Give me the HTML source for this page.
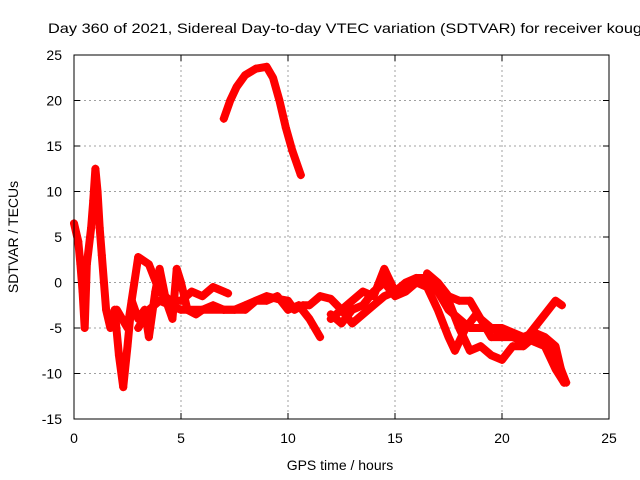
<!DOCTYPE html>
<html><head><meta charset="utf-8">
<style>
html,body{margin:0;padding:0;background:#fff;}
svg{display:block;font-family:"Liberation Sans",sans-serif;}
</style></head>
<body>
<svg id="chart" width="640" height="480" viewBox="0 0 640 480">
<text x="48" y="33" font-size="14" textLength="594" lengthAdjust="spacingAndGlyphs" fill="#000">Day 360 of 2021, Sidereal Day-to-day VTEC variation (SDTVAR) for receiver koug</text>
<g id="grid"></g>
<g id="ticks"></g>
<g id="series"></g>
<rect x="74" y="55" width="535" height="364" fill="none" stroke="#000" stroke-width="1"/>
<text x="340" y="470" font-size="14" text-anchor="middle">GPS time / hours</text>
<text x="18" y="237" font-size="14" text-anchor="middle" transform="rotate(-90 18 237)">SDTVAR / TECUs</text>
</svg>
<script>
const xTicks=[0,5,10,15,20,25];
const yTicks=[-15,-10,-5,0,5,10,15,20,25];
const seriesArc=[[7.0,18],[7.3,20],[7.6,21.5],[8.0,22.8],[8.5,23.5],[9.0,23.7],[9.3,22.5],[9.6,20],[9.9,17],[10.2,14.5],[10.6,11.8]];
const seriesEarly=[[0,6.5],[0.2,4.5],[0.3,2],[0.4,-1],[0.5,-5],[0.6,2],[0.8,6],[0.9,9],[1.0,12.5],[1.1,10],[1.2,6],[1.3,3],[1.4,0],[1.5,-3],[1.7,-5],[1.9,-3],[2.1,-8],[2.3,-11.5],[2.5,-7],[2.7,-2],[3.0,-4],[3.3,-3],[3.5,-6],[3.8,-1],[4.0,1.5],[4.3,-2],[4.6,-4],[4.8,1.5],[5.0,0],[5.3,-3],[5.7,-3.5],[6,-3],[6.5,-2.5],[7,-3],[7.5,-3],[8,-2.5],[8.5,-2],[9,-1.5],[9.5,-1.8],[10,-2],[10.3,-3],[10.7,-2.5],[11,-2.5],[11.5,-1.5],[12,-1.8],[12.5,-3],[13,-4.5],[13.5,-3.5],[14,-2.5],[14.5,-1.5],[15,-1],[15.5,0],[16,0.5],[16.5,0],[17,-1],[17.5,-3],[18,-4],[18.5,-5],[19,-5],[19.5,-5],[20,-5.5],[21,-6],[21.5,-5.5],[22,-6],[22.5,-7],[22.9,-11]];
const seriesUpper=[[2,-3],[2.5,-5],[3,2.8],[3.5,2],[4,-1],[4.5,-2],[5,-2],[5.5,-1],[6,-1.5],[6.5,-0.5],[7,-1],[7.2,-1.2]];
const seriesB=[[3,-5],[3.5,-3],[4,-2],[4.5,-2.5],[5,-3],[6,-3],[7,-3],[8,-3],[8.5,-2],[9,-2],[9.5,-1.5],[10,-3],[10.5,-2.5],[11,-4],[11.5,-6]];
const seriesC=[[12,-4],[12.5,-3],[13,-2],[13.5,-1],[14,-1.5],[14.5,1.5],[15,-1],[15.5,-0.5],[16,0.5],[16.5,0.5],[17,-1],[17.5,-2],[18,-5],[18.5,-7.5],[19,-7],[19.5,-8],[20,-8.5],[20.5,-7],[21,-7],[21.5,-6],[22,-6.5],[22.5,-8],[23,-11]];
const seriesD=[[12,-3.5],[12.5,-4.5],[13,-3],[13.5,-2.5],[14,-1],[14.5,0],[15,-1.5],[15.5,-1],[16,0],[16.5,-0.5],[17,-3],[17.5,-6],[17.8,-7.5],[18.3,-5],[18.8,-3.5],[19,-4],[19.5,-6],[20,-6],[20.5,-6],[21,-6.5],[21.5,-5],[22,-3.5],[22.5,-2],[22.8,-2.5]];
const seriesF=[[16.5,1],[17,0],[17.5,-1.5],[18,-2],[18.5,-2],[19,-4],[19.5,-5],[20,-5],[20.5,-5.5],[21,-6],[21.5,-6.5],[22,-7],[22.5,-9.5],[22.9,-11]];

const NS='http://www.w3.org/2000/svg';
const X0=74,X1=609,Y0=419,Y1=55;
function sx(v){return X0+(v-0)/(25-0)*(X1-X0);}
function sy(v){return Y0-(v+15)/(40)*(Y0-Y1);}
function mk(tag,attrs,parent){const e=document.createElementNS(NS,tag);for(const k in attrs)e.setAttribute(k,attrs[k]);parent.appendChild(e);return e;}
const grid=document.getElementById('grid'),ticks=document.getElementById('ticks'),ser=document.getElementById('series');
xTicks.forEach(t=>{
  const x=sx(t);
  if(t>0&&t<25){const g=mk('line',{x1:x,x2:x,y1:Y1,y2:Y0,stroke:'#a0a0a0','stroke-dasharray':'2,3'},grid);
  
  }
  const tl=mk('line',{x1:x,x2:x,y1:Y0,y2:Y0-6,stroke:'#000'},ticks);
  
  
  const tt=mk('line',{x1:x,x2:x,y1:Y1,y2:Y1+6,stroke:'#000'},ticks);
  
  
  const lb=mk('text',{x:x,y:Y0+24,'font-size':14,'text-anchor':'middle'},ticks);lb.textContent=t;
  
  
});
yTicks.forEach(t=>{
  const y=sy(t);
  if(t>-15&&t<25){const g=mk('line',{x1:X0,x2:X1,y1:y,y2:y,stroke:'#a0a0a0','stroke-dasharray':'2,3'},grid);
  
  }
  const tl=mk('line',{x1:X0,x2:X0+6,y1:y,y2:y,stroke:'#000'},ticks);
  
  
  const tr=mk('line',{x1:X1,x2:X1-6,y1:y,y2:y,stroke:'#000'},ticks);
  
  
  const lb=mk('text',{x:X0-12,y:y+5,'font-size':14,'text-anchor':'end'},ticks);lb.textContent=t;
  
  
});
function drawSeries(data,name){
  const g=mk('g',{},ser);
  
  
  const pts=data.map(p=>sx(p[0])+','+sy(p[1])).join(' ');
  const pl=mk('polyline',{points:pts,fill:'none',stroke:'#ff0000','stroke-width':8,'stroke-linejoin':'round','stroke-linecap':'round'},g);
  
  
  data.forEach(p=>{
    const x=sx(p[0]),y=sy(p[1]);
    const m=mk('path',{d:`M${x-4},${y}H${x+4}M${x},${y-4}V${y+4}`,stroke:'#ff0000','stroke-width':1.5},g);
    
    
  });
}
drawSeries(seriesArc,'series-arc');
drawSeries(seriesEarly,'series-early');
drawSeries(seriesUpper,'series-upper');
drawSeries(seriesB,'series-b');
drawSeries(seriesC,'series-c');
drawSeries(seriesD,'series-d');
drawSeries(seriesF,'series-f');
</script>
</body></html>
